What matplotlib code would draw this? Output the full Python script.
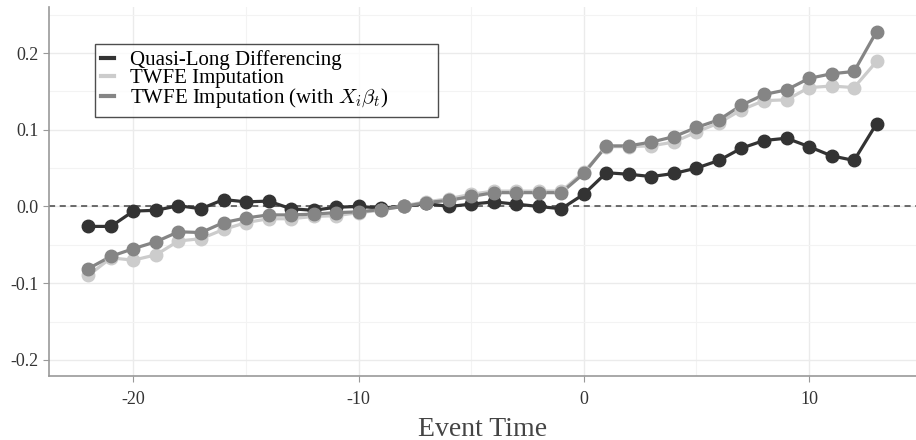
import matplotlib
matplotlib.use("Agg")
import matplotlib.pyplot as plt
from matplotlib.ticker import MultipleLocator

event_time = list(range(-22, 14))

quasi_ld = [-0.026, -0.026, -0.006, -0.005, 0.001, -0.003, 0.009, 0.006, 0.007, -0.003,
            -0.005, -0.001, 0.000, -0.002, 0.000, 0.004, 0.000, 0.003, 0.006, 0.003,
            0.000, -0.003, 0.016, 0.044, 0.042, 0.039, 0.043, 0.050, 0.060, 0.076,
            0.086, 0.089, 0.078, 0.066, 0.060, 0.108]

twfe_imp = [-0.090, -0.067, -0.070, -0.063, -0.045, -0.042, -0.030, -0.021, -0.016, -0.016,
            -0.013, -0.012, -0.008, -0.005, 0.001, 0.006, 0.010, 0.016, 0.020, 0.020,
            0.020, 0.020, 0.045, 0.078, 0.078, 0.079, 0.084, 0.097, 0.109, 0.126,
            0.138, 0.139, 0.155, 0.157, 0.155, 0.189]

twfe_imp_x = [-0.081, -0.065, -0.055, -0.046, -0.033, -0.034, -0.021, -0.015, -0.011, -0.011,
              -0.010, -0.008, -0.007, -0.004, 0.000, 0.005, 0.008, 0.013, 0.018, 0.018,
              0.018, 0.018, 0.043, 0.079, 0.079, 0.084, 0.091, 0.103, 0.113, 0.132,
              0.146, 0.152, 0.167, 0.173, 0.176, 0.228]

series = [
    ("Quasi-Long Differencing", quasi_ld, "#333333"),
    ("TWFE Imputation", twfe_imp, "#cccccc"),
    (r"TWFE Imputation (with $X_i\beta_t$)", twfe_imp_x, "#858585"),
]

plt.rcParams["font.family"] = ["Liberation Serif", "DejaVu Serif"]
plt.rcParams["mathtext.fontset"] = "cm"

fig = plt.figure(figsize=(9.16, 4.4), dpi=100)
ax = fig.add_axes([0.0535, 0.1455, 0.9465, 0.8385])

ax.axhline(0, color="#444444", lw=1.1, ls=(0, (4, 3)), zorder=1)

for name, vals, col in series:
    ax.plot(event_time, vals, color=col, lw=2.3, label=name, zorder=2)
for name, vals, col in series:
    ax.plot(event_time, vals, "o", color=col, ms=9, zorder=3)

ax.set_xlim(-23.75, 14.75)
ax.set_ylim(-0.221, 0.26)
ax.xaxis.set_major_locator(MultipleLocator(10))
ax.xaxis.set_minor_locator(MultipleLocator(5))
ax.yaxis.set_major_locator(MultipleLocator(0.1))
ax.yaxis.set_minor_locator(MultipleLocator(0.05))
ax.set_yticks([-0.2, -0.1, 0.0, 0.1, 0.2])
ax.set_yticklabels(["-0.2", "-0.1", "0.0", "0.1", "0.2"])
ax.set_xticks([-20, -10, 0, 10])
ax.set_xticklabels(["-20", "-10", "0", "10"])

ax.grid(which="major", color="#ebebeb", lw=1.0, zorder=0)
ax.grid(which="minor", color="#f3f3f3", lw=0.8, zorder=0)
ax.set_axisbelow(True)

for s in ["top", "right"]:
    ax.spines[s].set_visible(False)
for s in ["left", "bottom"]:
    ax.spines[s].set_color("#999999")
    ax.spines[s].set_linewidth(1.2)

ax.tick_params(which="major", length=4, color="#999999", labelsize=13,
               labelcolor="#333333")
ax.tick_params(axis="x", which="major", pad=7)
ax.tick_params(which="minor", length=0)

ax.set_xlabel("Event Time", fontsize=20, color="#444444", labelpad=6)

leg = ax.legend(loc="upper left", bbox_to_anchor=(0.053, 0.9, 0.396, 0.0),
                mode="expand", fontsize=15,
                frameon=True, fancybox=False, handlelength=0.6,
                handletextpad=0.8, labelspacing=-0.08, borderpad=0.3,
                borderaxespad=0)
leg.get_frame().set_edgecolor("#222222")
leg.get_frame().set_linewidth(1.0)
for line in leg.get_lines():
    line.set_linewidth(3)

plt.savefig("out.png", dpi=100)
